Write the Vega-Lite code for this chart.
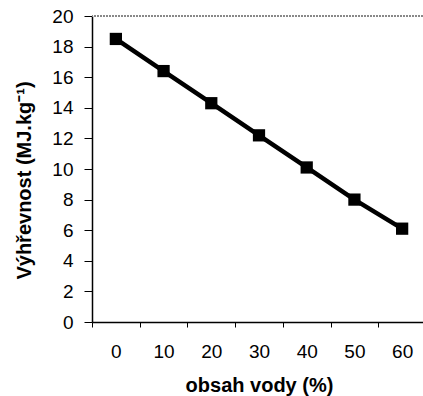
{
  "$schema": "https://vega.github.io/schema/vega-lite/v6.json",
  "width": 334,
  "height": 306,
  "autosize": "none",
  "padding": {"left": 92, "top": 16, "right": 0, "bottom": 74},
  "background": "white",
  "config": {
    "view": {"stroke": null},
    "font": "Liberation Sans",
    "axis": {"labelFont": "Liberation Sans", "titleFont": "Liberation Sans", "labelColor": "black", "titleColor": "black", "domainColor": "black", "tickColor": "black", "grid": false},
    "axisY": {"title": "Výhřevnost (MJ.kg⁻¹)", "values": [0,2,4,6,8,10,12,14,16,18,20], "labelOverlap": false, "labelFontSize": 19, "titleFontSize": 20, "titleFontWeight": "bold", "tickSize": 8, "labelPadding": 11, "titlePadding": 17, "titleY": 164, "domainWidth": 1.5},
    "axisX": {"labelAngle": 0, "labelFontSize": 19, "titleFontSize": 20, "titleFontWeight": "bold", "tickBand": "extent", "tickSize": 5, "labelPadding": 15, "titlePadding": 14, "domainWidth": 1.5}
  },
  "data": {
    "values": [
      {"voda": "0", "v": 18.5},
      {"voda": "10", "v": 16.4},
      {"voda": "20", "v": 14.3},
      {"voda": "30", "v": 12.2},
      {"voda": "40", "v": 10.1},
      {"voda": "50", "v": 8.0},
      {"voda": "60", "v": 6.1}
    ]
  },
  "layer": [
    {
      "mark": {"type": "rule", "color": "#888888", "strokeWidth": 1, "strokeDash": [2, 1]},
      "encoding": {"y": {"datum": 20, "type": "quantitative", "axis": {"title": "Výhřevnost (MJ.kg⁻¹)"}}}
    },
    {
      "mark": {"type": "line", "color": "black", "strokeWidth": 4.5},
      "encoding": {
        "x": {"field": "voda", "type": "ordinal", "sort": null,
          "scale": {"type": "band", "paddingInner": 0, "paddingOuter": 0},
          "axis": {"title": "obsah vody (%)"}},
        "y": {"field": "v", "type": "quantitative",
          "scale": {"domain": [0, 20], "nice": false},
          "axis": {"title": "Výhřevnost (MJ.kg⁻¹)"}}
      }
    },
    {
      "mark": {"type": "point", "shape": "square", "filled": true, "color": "black", "size": 150, "opacity": 1},
      "encoding": {
        "x": {"field": "voda", "type": "ordinal", "sort": null, "axis": {"title": "obsah vody (%)"}},
        "y": {"field": "v", "type": "quantitative", "axis": {"title": "Výhřevnost (MJ.kg⁻¹)"}}
      }
    }
  ]
}
